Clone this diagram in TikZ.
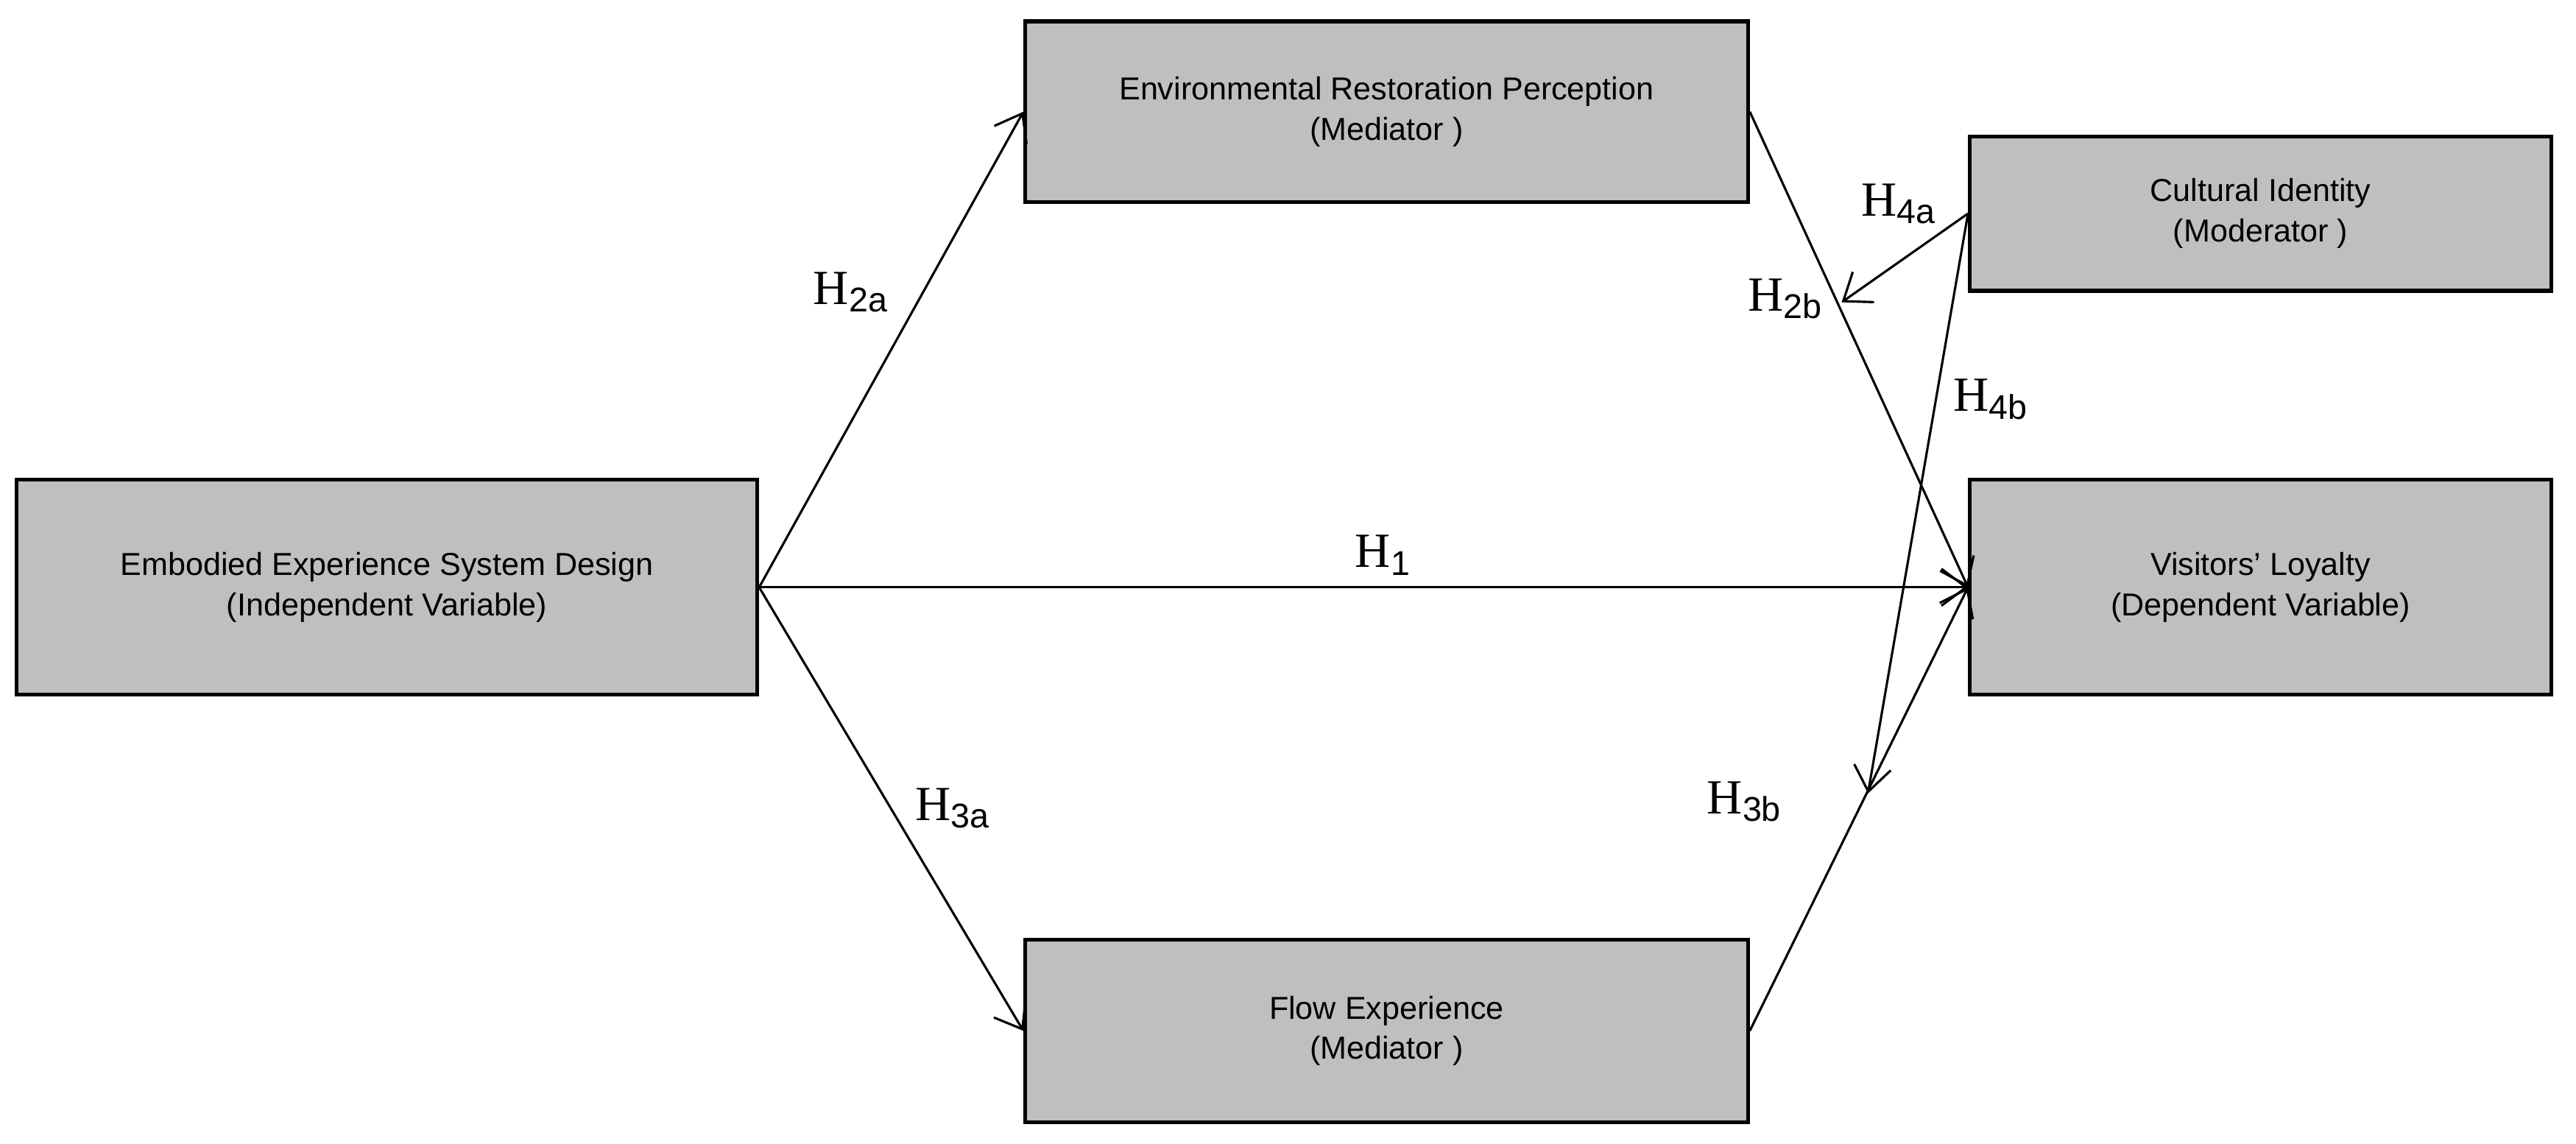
\documentclass[tikz,border=0pt]{standalone}
\usepackage{fontspec}
\setmainfont{Liberation Sans}
\newfontfamily\hfont{Liberation Serif}
\usetikzlibrary{arrows.meta}
\begin{document}
\begin{tikzpicture}[x=0.02cm,y=-0.02cm,
  box/.style={draw=black,line width=1.3pt,fill=black!25,align=center,inner sep=0pt,font=\fontsize{11}{14}\selectfont},
  arr/.style={line width=0.8pt,-{Straight Barb[length=0.3cm,width=0.45cm,line width=0.8pt]}},
  lab/.style={font=\hfont\fontsize{17}{20}\selectfont,inner sep=0pt}]
\useasboundingbox (0,0) rectangle (1568,696);
\node[box,minimum width=9.02cm,minimum height=2.62cm] (emb) at (235.5,357.5) {Embodied Experience System Design\\(Independent Variable)};
\node[box,minimum width=8.8cm,minimum height=2.2cm] (env) at (844,68) {Environmental Restoration Perception\\(Mediator )};
\node[box,minimum width=8.8cm,minimum height=2.22cm] (flow) at (844,627.5) {Flow Experience\\(Mediator )};
\node[box,minimum width=7.08cm,minimum height=1.88cm] (cult) at (1376,130) {Cultural Identity\\(Moderator )};
\node[box,minimum width=7.08cm,minimum height=2.62cm] (vis) at (1376,357.5) {Visitors' Loyalty\\(Dependent Variable)};
\coordinate (a4) at (1121,184);
\coordinate (b4) at (1137,483);
\draw[arr] (emb.east) -- (env.west);
\draw[arr] (emb.east) -- (vis.west);
\draw[arr] (emb.east) -- (flow.west);
\draw[arr] (env.east) -- (vis.west);
\draw[arr] (flow.east) -- (vis.west);
\draw[arr] (cult.west) -- (a4);
\draw[arr] (cult.west) -- (b4);
\node[lab] (l2a) at (518,178) {H$_{\mathrm{2a}}$};
\node[lab] (l1) at (842,338) {H$_{\mathrm{1}}$};
\node[lab] (l3a) at (580,492) {H$_{\mathrm{3a}}$};
\node[lab] (l2b) at (1087,182) {H$_{\mathrm{2b}}$};
\node[lab] (l4a) at (1156,124) {H$_{\mathrm{4a}}$};
\node[lab] (l4b) at (1212,243) {H$_{\mathrm{4b}}$};
\node[lab] (l3b) at (1062,488) {H$_{\mathrm{3b}}$};
\end{tikzpicture}
\end{document}
